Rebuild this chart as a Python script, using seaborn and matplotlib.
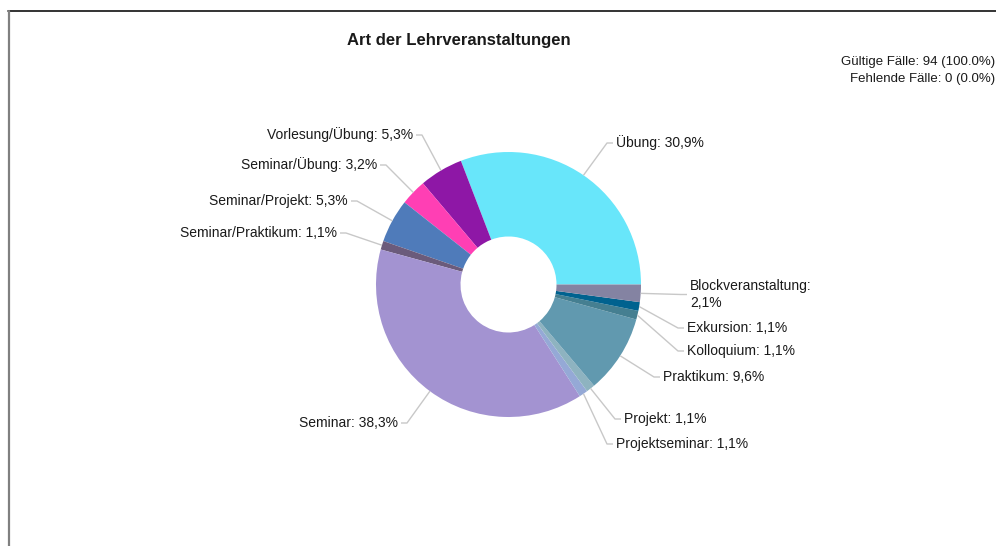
import matplotlib
matplotlib.use("Agg")
import matplotlib.pyplot as plt
import seaborn as sns
import numpy as np

# ---- data ----
categories = ["Übung", "Vorlesung/Übung", "Seminar/Übung", "Seminar/Projekt",
              "Seminar/Praktikum", "Seminar", "Projektseminar", "Projekt",
              "Praktikum", "Kolloquium", "Exkursion", "Blockveranstaltung"]
counts = [29, 5, 3, 5, 1, 36, 1, 1, 9, 1, 1, 2]
colors = ["#68E6FA", "#8E17A6", "#FF3FB4", "#4F7BBA", "#6B5B7B", "#A393D1",
          "#95A9D6", "#8EB3C0", "#6199AF", "#457F91", "#00628F", "#8483A2"]
title = "Art der Lehrveranstaltungen"
info_lines = ["Gültige Fälle: 94 (100.0%)", "Fehlende Fälle: 0 (0.0%)"]

# ---- layout (pixel positions of label texts) ----
label_pos = [(616, 143, "left"), (413, 135, "right"), (377, 165, "right"),
             (348, 201, "right"), (337, 233, "right"), (398, 423, "right"),
             (616, 444, "left"), (624, 419, "left"), (663, 377, "left"),
             (687, 351, "left"), (687, 328, "left"), (690, 294.5, "left")]
wrap_labels = {"Blockveranstaltung"}

W, H = 996, 546
CX, CY, R, RIN = 508.5, 284.5, 132.5, 48.0

sns.set_theme(style="white")
plt.rcParams["font.family"] = ["Liberation Sans", "DejaVu Sans"]

fig = plt.figure(figsize=(W / 100, H / 100), dpi=100)
ax = fig.add_axes([0, 0, 1, 1])

def Y(p):
    return H - p

palette = sns.color_palette(colors)
wedges, _ = ax.pie(counts, colors=palette, startangle=0, counterclock=True,
                   center=(CX, Y(CY)), radius=R,
                   wedgeprops=dict(width=R - RIN, linewidth=0))
ax.set_xlim(0, W)
ax.set_ylim(0, H)
ax.set_aspect("equal")
ax.axis("off")

total = sum(counts)
for w, name, c, (tx, ty, ha) in zip(wedges, categories, counts, label_pos):
    pct = f"{100 * c / total:.1f}".replace(".", ",") + "%"
    sep = ":\n" if name in wrap_labels else ": "
    text = f"{name}{sep}{pct}"
    mid = np.deg2rad((w.theta1 + w.theta2) / 2)
    sx = CX + R * np.cos(mid)
    sy = Y(CY) + R * np.sin(mid)
    sgn = 1 if ha == "left" else -1
    ex = tx - sgn * 9
    ax.plot([sx, ex, tx - sgn * 3], [sy, Y(ty), Y(ty)], color="#C8C8C8",
            lw=1.0, solid_capstyle="butt")
    ax.text(tx, Y(ty), text, ha=ha, va="center", fontsize=10,
            color="#1a1a1a", linespacing=1.25)

ax.text(459, Y(40), title, ha="center", va="center", fontsize=12,
        fontweight="bold", color="#1a1a1a")
ax.text(995, Y(62), info_lines[0], ha="right", va="center", fontsize=9.5,
        color="#1a1a1a")
ax.text(995, Y(79), info_lines[1], ha="right", va="center", fontsize=9.5,
        color="#1a1a1a")

# frame lines
ax.plot([8, W], [Y(10.5), Y(10.5)], color="#111111", lw=1.2)
ax.plot([8.5, 8.5], [Y(10.5), 0], color="#808080", lw=1.6)

fig.savefig("out.png", dpi=100)
